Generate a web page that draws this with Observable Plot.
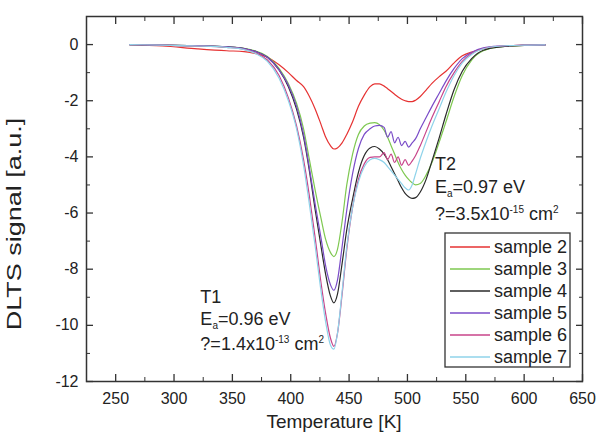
<!DOCTYPE html>
<html><head><meta charset="utf-8">
<script src="https://cdn.jsdelivr.net/npm/d3@7"></script>
<script src="https://cdn.jsdelivr.net/npm/@observablehq/plot@0.6"></script>
<style>
body{margin:0;background:#fff}
svg text{font-family:"Liberation Sans",Arial,sans-serif}
</style>
</head><body><div id="chart"></div>
<script>
// ---- data ----
const temperature = [262,290,320,345,360,370,380,390,398,405,411,416,421,426,430,434,437,440,444,448,453,458,463,468,472,476,480,483,486,489,492,495,498,501,504,507,511,516,521,527,533,540,547,555,565,580,600,618];
const sample2 = [0,-0.05,-0.15,-0.22,-0.25,-0.32,-0.45,-0.72,-1.0,-1.28,-1.5,-1.85,-2.3,-2.85,-3.3,-3.6,-3.72,-3.68,-3.5,-3.2,-2.75,-2.2,-1.8,-1.5,-1.4,-1.4,-1.48,-1.57,-1.67,-1.77,-1.87,-1.95,-2.0,-2.03,-2.03,-1.98,-1.85,-1.62,-1.38,-1.15,-0.95,-0.65,-0.4,-0.27,-0.15,-0.06,-0.02,0];
const sample3 = [0,-0.02,-0.04,-0.08,-0.13,-0.23,-0.42,-0.85,-1.4,-2.1,-3.0,-4.1,-5.2,-6.2,-6.95,-7.4,-7.55,-7.3,-6.3,-5.0,-3.9,-3.2,-2.9,-2.8,-2.78,-2.85,-3.05,-3.3,-3.6,-3.9,-4.2,-4.45,-4.65,-4.8,-4.92,-5.0,-4.95,-4.65,-4.2,-3.5,-2.75,-1.85,-1.1,-0.55,-0.22,-0.08,-0.03,-0.01];
const sample4 = [0,-0.02,-0.04,-0.08,-0.14,-0.25,-0.45,-0.9,-1.5,-2.3,-3.3,-4.5,-5.9,-7.2,-8.2,-8.95,-9.2,-8.9,-7.8,-6.6,-5.5,-4.55,-3.95,-3.68,-3.63,-3.72,-3.9,-4.1,-4.35,-4.6,-4.85,-5.1,-5.3,-5.42,-5.48,-5.45,-5.25,-4.8,-4.15,-3.35,-2.5,-1.6,-0.95,-0.5,-0.2,-0.08,-0.03,-0.01];
const sample5 = [0,-0.02,-0.04,-0.08,-0.14,-0.25,-0.45,-0.9,-1.45,-2.2,-3.2,-4.4,-5.7,-6.9,-7.9,-8.55,-8.75,-8.4,-7.2,-5.9,-4.6,-3.7,-3.2,-3.0,-2.9,-2.88,-2.95,-3.3,-3.1,-3.5,-3.3,-3.6,-3.45,-3.65,-3.5,-3.35,-3.0,-2.6,-2.2,-1.75,-1.3,-0.85,-0.5,-0.28,-0.12,-0.05,-0.02,-0.01];
const sample6 = [0,-0.02,-0.05,-0.1,-0.17,-0.3,-0.55,-1.1,-1.9,-2.9,-4.1,-5.4,-6.9,-8.5,-9.6,-10.45,-10.75,-10.3,-8.9,-7.3,-5.8,-4.8,-4.25,-4.02,-4.0,-4.0,-3.85,-4.1,-3.9,-4.2,-4.0,-4.3,-4.1,-4.3,-4.15,-3.95,-3.6,-3.1,-2.6,-2.05,-1.5,-1.0,-0.6,-0.32,-0.14,-0.05,-0.02,-0.01];
const sample7 = [0,-0.02,-0.05,-0.1,-0.18,-0.32,-0.6,-1.2,-2.0,-3.0,-4.3,-5.7,-7.2,-8.8,-9.9,-10.7,-10.85,-10.3,-8.8,-7.2,-5.8,-4.9,-4.35,-4.1,-4.05,-4.1,-4.2,-4.35,-4.5,-4.65,-4.8,-4.95,-5.1,-5.18,-5.0,-4.6,-4.05,-3.45,-2.9,-2.3,-1.7,-1.1,-0.65,-0.35,-0.15,-0.05,-0.02,-0.01];
const seriesNames = ["sample 2","sample 3","sample 4","sample 5","sample 6","sample 7"];
const seriesColors = ["#e63232","#7ec850","#2a2a2a","#7a4cc8","#c8458a","#8fd3ea"];
const xTicks = [250,300,350,400,450,500,550,600,650];
const xMinorTicks = [275,325,375,425,475,525,575,625];
const yTicks = [0,-2,-4,-6,-8,-10,-12];
const yMinorTicks = [1,-1,-3,-5,-7,-9,-11];

const seriesValues = [sample2,sample3,sample4,sample5,sample6,sample7];
const data = seriesNames.flatMap((name,i)=>temperature.map((t,j)=>({T:t, v:seriesValues[i][j], name})));

const axisInk = "#333";
const plot = Plot.plot({
  width:598, height:433,
  marginLeft:86, marginRight:16, marginTop:16, marginBottom:52,
  style:{fontFamily:"Liberation Sans, Arial, sans-serif", fontSize:"16px", color:"#222", background:"#fff", overflow:"visible"},
  x:{domain:[225,650], label:null},
  y:{domain:[-12,1], label:null},
  color:{domain:seriesNames, range:seriesColors},
  marks:[
    Plot.line(data,{x:"T", y:"v", z:"name", stroke:"name", strokeWidth:1.2, curve:"monotone-x"}),
    // labels
    Plot.axisX({anchor:"bottom", ticks:xTicks, tickSize:0, tickPadding:11, tickFormat:d=>String(d), label:null, fontSize:16, fill:"#222"}),
    Plot.axisY({anchor:"left", ticks:yTicks, tickSize:0, tickPadding:8, tickFormat:d=>String(d), label:null, fontSize:16, fill:"#222"}),
    // inward major ticks
    Plot.axisX({anchor:"bottom", ticks:xTicks, tickSize:7, dy:-7, tickFormat:()=>"", label:null, stroke:axisInk, strokeWidth:1.3}),
    Plot.axisX({anchor:"top", ticks:xTicks, tickSize:7, dy:7, tickFormat:()=>"", label:null, stroke:axisInk, strokeWidth:1.3}),
    Plot.axisY({anchor:"left", ticks:yTicks, tickSize:7, dx:7, tickFormat:()=>"", label:null, stroke:axisInk, strokeWidth:1.3}),
    Plot.axisY({anchor:"right", ticks:yTicks, tickSize:7, dx:-7, tickFormat:()=>"", label:null, stroke:axisInk, strokeWidth:1.3}),
    // inward minor ticks
    Plot.axisX({anchor:"bottom", ticks:xMinorTicks, tickSize:4, dy:-4, tickFormat:()=>"", label:null, stroke:axisInk, strokeWidth:1}),
    Plot.axisX({anchor:"top", ticks:xMinorTicks, tickSize:4, dy:4, tickFormat:()=>"", label:null, stroke:axisInk, strokeWidth:1}),
    Plot.axisY({anchor:"left", ticks:yMinorTicks, tickSize:4, dx:4, tickFormat:()=>"", label:null, stroke:axisInk, strokeWidth:1}),
    Plot.axisY({anchor:"right", ticks:yMinorTicks, tickSize:4, dx:-4, tickFormat:()=>"", label:null, stroke:axisInk, strokeWidth:1}),
    Plot.frame({stroke:axisInk, strokeWidth:1.5})
  ]
});
document.getElementById("chart").appendChild(plot);

const svg = d3.select(plot);
const sx = plot.scale("x"), sy = plot.scale("y");

// axis titles
svg.append("text").attr("x",(sx.apply(225)+sx.apply(650))/2).attr("y",428)
  .attr("text-anchor","middle").attr("font-size",19).attr("fill","#222").text("Temperature [K]");
svg.append("text").attr("transform","translate(21,224) rotate(-90) scale(1.35,1)")
  .attr("text-anchor","middle").attr("font-size",20).attr("fill","#222").text("DLTS signal [a.u.]");

// annotations
function annot(T, vals, lines){
  const g = svg.append("g").attr("font-size",18).attr("fill","#222").attr("text-anchor","start");
  lines.forEach((parts,i)=>{
    const t = g.append("text").attr("x",sx.apply(T)).attr("y",sy.apply(vals[i])).attr("text-anchor","start");
    parts.forEach(p=>{
      const ts = t.append("tspan").text(p[0]);
      if(p[1]==="sub") ts.attr("font-size",10).attr("dy",4);
      if(p[1]==="sup") ts.attr("font-size",10).attr("dy",-7);
      if(p[1]==="back") ts.attr("dy",p[2]);
    });
  });
}
annot(323,[-9.22,-10.02,-10.88],[
  [["T1"]],
  [["E"],["a","sub"],["=0.96 eV","back",-4]],
  [["?=1.4x10"],["-13","sup"],[" cm","back",7],["2","sup"]]
]);
annot(524,[-4.5,-5.31,-6.25],[
  [["T2"]],
  [["E"],["a","sub"],["=0.97 eV","back",-4]],
  [["?=3.5x10"],["-15","sup"],[" cm","back",7],["2","sup"]]
]);

// legend
const lg = svg.append("g").attr("text-anchor","start");
lg.append("rect").attr("x",445).attr("y",233).attr("width",125).attr("height",134)
  .attr("fill","#fff").attr("stroke",axisInk).attr("stroke-width",1.3);
seriesNames.forEach((name,i)=>{
  const y = 247 + i*22;
  lg.append("line").attr("x1",450).attr("x2",490).attr("y1",y).attr("y2",y)
    .attr("stroke",seriesColors[i]).attr("stroke-width",1.3);
  lg.append("text").attr("x",494).attr("y",y).attr("dy","0.36em").attr("text-anchor","start")
    .attr("font-size",18).attr("fill","#222").text(name);
});
</script>
</body></html>
